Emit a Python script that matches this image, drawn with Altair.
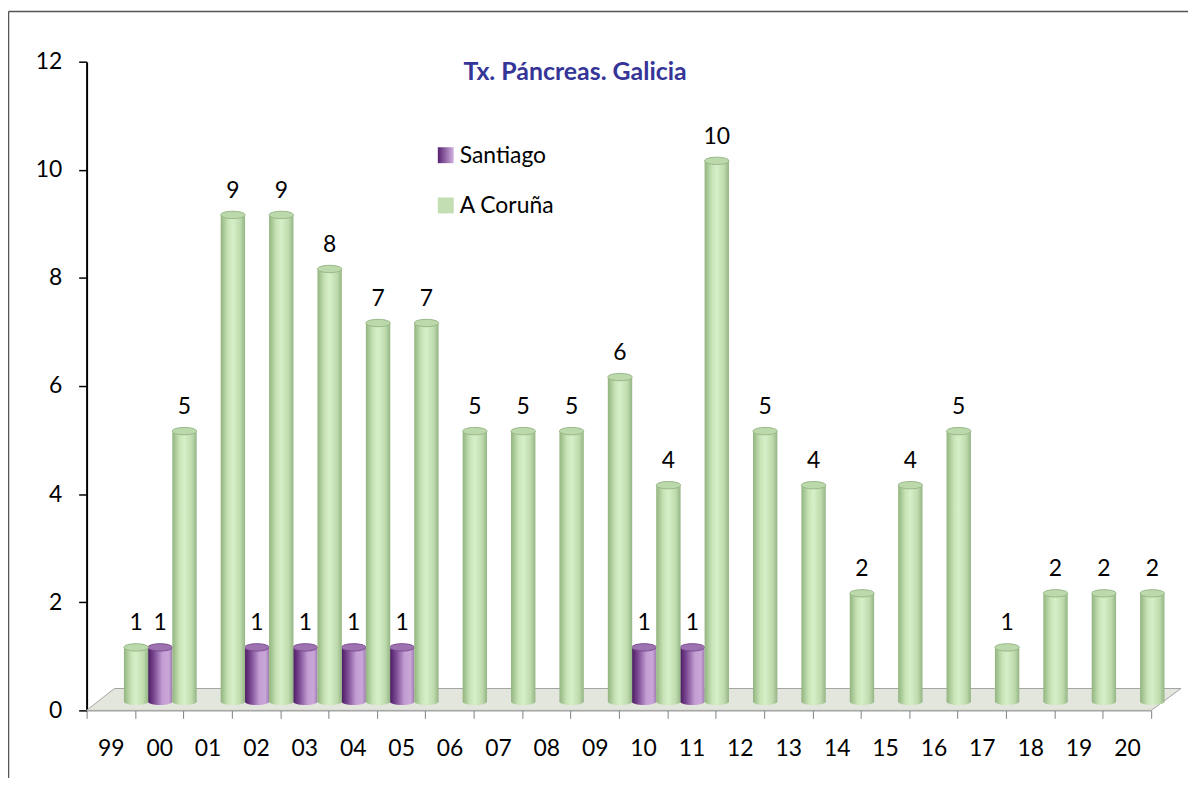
import altair as alt
import pandas as pd

# ---------------- data ----------------
years = ["99", "00", "01", "02", "03", "04", "05", "06", "07", "08", "09", "10",
         "11", "12", "13", "14", "15", "16", "17", "18", "19", "20"]
santiago = [None, 1, None, 1, 1, 1, 1, None, None, None, None, 1,
            1, None, None, None, None, None, None, None, None, None]
coruna = [1, 5, 9, 9, 8, 7, 7, 5, 5, 5, 6, 4,
          10, 5, 4, 2, 4, 5, 1, 2, 2, 2]
series = ["Santiago", "A Coruña"]
y_ticks = [0, 2, 4, 6, 8, 10, 12]
title_text = "Tx. Páncreas. Galicia"

rows = []
for yr, s, c in zip(years, santiago, coruna):
    if s is not None:
        rows.append({"year": yr, "series": series[0], "value": s})
    if c is not None:
        rows.append({"year": yr, "series": series[1], "value": c})
df = pd.DataFrame(rows)

# ---------------- layout / style ----------------
W, H = 1070, 652
FONT = "Lato"
FS = 23
ELLIPSE = "M-1,0A1,0.3,0,1,1,1,0A1,0.3,0,1,1,-1,0Z"

green_grad = alt.Gradient(
    gradient="linear", x1=0, x2=1, y1=0, y2=0,
    stops=[alt.GradientStop(offset=0, color="#92b47f"),
           alt.GradientStop(offset=0.3, color="#c8e4b7"),
           alt.GradientStop(offset=0.5, color="#d6efc8"),
           alt.GradientStop(offset=0.8, color="#bedbad"),
           alt.GradientStop(offset=1, color="#95b585")])
purple_grad = alt.Gradient(
    gradient="linear", x1=0, x2=1, y1=0, y2=0,
    stops=[alt.GradientStop(offset=0, color="#4c1a63"),
           alt.GradientStop(offset=0.25, color="#7b4992"),
           alt.GradientStop(offset=0.6, color="#c39ed3"),
           alt.GradientStop(offset=0.85, color="#c9a6d8"),
           alt.GradientStop(offset=1, color="#9f7bb1")])
legend_purple = alt.Gradient(
    gradient="linear", x1=0, x2=1, y1=0, y2=0,
    stops=[alt.GradientStop(offset=0, color="#561f6e"),
           alt.GradientStop(offset=1, color="#d2b2e0")])

y_scale = alt.Scale(domain=[0, 12], range=[H - 9, -9], nice=False)
y_axis = alt.Axis(title=None, values=y_ticks, labelFont=FONT, labelFontSize=FS,
                  labelColor="black", labelPadding=17, tickSize=8,
                  tickColor="black", tickWidth=1.5, domainColor="black",
                  domainWidth=2, grid=False, position=9)

x_enc = alt.X("year:N", sort=years,
              scale=alt.Scale(domain=years, paddingInner=0, paddingOuter=0),
              axis=alt.Axis(title=None, labelAngle=0, labelFont=FONT, labelFontSize=FS,
                            labelColor="black", labelPadding=19, tickSize=8,
                            tickColor="#7f7f7f", tickWidth=1, domainColor="#7f7f7f",
                            domainWidth=1, tickBand="extent"))
xoff = alt.XOffset("series:N",
                   scale=alt.Scale(domain=series, range=[13, 62],
                                   paddingInner=0, paddingOuter=0))
y_enc = alt.Y("value:Q", scale=y_scale, axis=y_axis)
y_zero = alt.Y("zero:Q", scale=y_scale, axis=y_axis)

base = alt.Chart(df).transform_calculate(zero="0")
one = alt.Data(values=[{"k": 1}])

# floor of the 3-D plot (decoration)
floor_df = pd.DataFrame({"fy": [H, H - 22], "fx": [0, 28], "fx2": [W, W + 30]})
floor = alt.Chart(floor_df).mark_area(
    orient="horizontal", color="#e3e6dc", stroke="#a3a3a3", strokeWidth=1, opacity=1
).encode(y=alt.Y("fy:Q", scale=None), x=alt.X("fx:Q", scale=None), x2="fx2")

layers = []
for name, grad, cap_fill, cap_stroke in [
    (series[0], purple_grad, "#9d72b0", "#7b4b90"),
    (series[1], green_grad, "#bcd9ab", "#97b688"),
]:
    sub = base.transform_filter(alt.datum.series == name)
    body = sub.mark_bar(color=grad, opacity=1).encode(x=x_enc, xOffset=xoff, y=y_enc)
    bottom = sub.mark_point(shape=ELLIPSE, size=600, filled=True, fill=grad,
                            strokeWidth=0, opacity=1).encode(
        x=x_enc, xOffset=xoff, y=y_zero)
    cap = sub.mark_point(shape=ELLIPSE, size=600, filled=True, fill=cap_fill,
                         stroke=cap_stroke, strokeWidth=1, opacity=1).encode(
        x=x_enc, xOffset=xoff, y=y_enc)
    layers += [bottom, body, cap]

labels = base.mark_text(font=FONT, fontSize=FS, color="black", dy=-17,
                        baseline="alphabetic", align="center").encode(
    x=x_enc, xOffset=xoff, y=y_enc, text=alt.Text("value:Q"))
layers.append(labels)

# legend (inside the plot, as in the original)
leg_sq1 = alt.Chart(one).mark_square(size=256, filled=True, fill=legend_purple,
                                     opacity=1, strokeWidth=0).encode(
    x=alt.value(361), y=alt.value(94))
leg_sq2 = alt.Chart(one).mark_square(size=256, filled=True, fill="#c3deb3",
                                     opacity=1, strokeWidth=0).encode(
    x=alt.value(361), y=alt.value(144.5))
leg_t1 = alt.Chart(one).mark_text(text=series[0], font=FONT, fontSize=FS, color="black",
                                  align="left", baseline="middle").encode(
    x=alt.value(375), y=alt.value(95))
leg_t2 = alt.Chart(one).mark_text(text=series[1], font=FONT, fontSize=FS, color="black",
                                  align="left", baseline="middle").encode(
    x=alt.value(375), y=alt.value(145))
title = alt.Chart(one).mark_text(text=title_text, font=FONT, fontSize=25, fontWeight="bold",
                                 color="#353597", align="center", baseline="middle").encode(
    x=alt.value(491), y=alt.value(10))

# outer chart-area border (top and left edges visible in the original)
border_top = alt.Chart(one).mark_rule(color="#555555", strokeWidth=1.5).encode(
    x=alt.value(-78.5), x2=alt.value(W + 40), y=alt.value(-50.5))
border_left = alt.Chart(one).mark_rule(color="#555555", strokeWidth=1.5).encode(
    x=alt.value(-78.5), y=alt.value(-50.5), y2=alt.value(H + 80))

layers = layers + [floor]
layers = [layers[-1]] + layers[:-1]
layers += [leg_sq1, leg_sq2, leg_t1, leg_t2, title, border_top, border_left]

chart = alt.layer(*layers).properties(
    width=W, height=H,
    padding={"left": 79, "top": 52, "right": 37, "bottom": 66},
    autosize=alt.AutoSizeParams(type="none"),
    background="white",
).configure_view(stroke=None)

chart.save("out.html", embed_options={"renderer": "svg", "actions": False})
